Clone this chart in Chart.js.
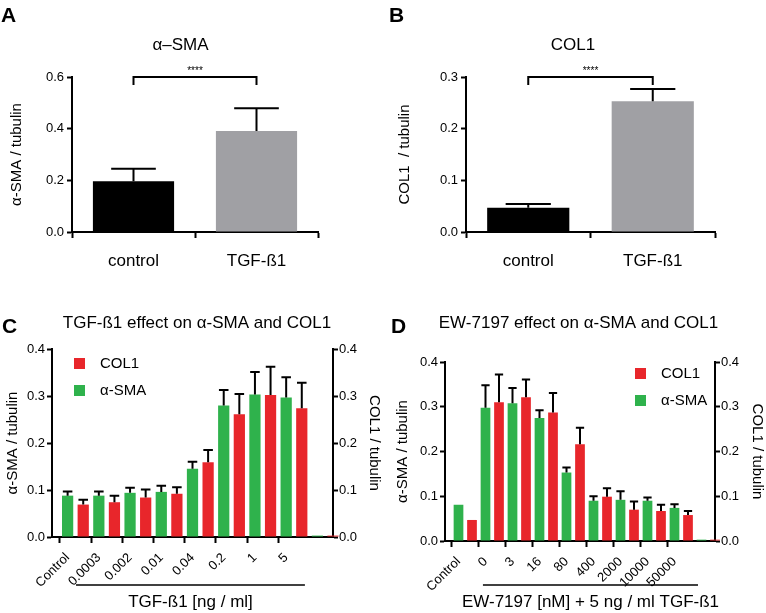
<!DOCTYPE html>
<html>
<head>
<meta charset="utf-8">
<script src="https://cdn.jsdelivr.net/npm/chart.js@4.4.1/dist/chart.umd.min.js"></script>
<style>
  html, body { margin: 0; padding: 0; background: #fff; }
  #fig { position: relative; width: 766px; height: 613px; overflow: hidden; }
  #fig canvas { position: absolute; }
  .tag { position: absolute; font: bold 21px 'Liberation Sans', Arial, sans-serif; line-height: 21px; color: #000; }
</style>
</head>
<body>
<div id="fig">
  <canvas id="chartA" width="383" height="300" style="left:0;top:0"></canvas>
  <canvas id="chartB" width="383" height="300" style="left:383px;top:0"></canvas>
  <canvas id="chartC" width="383" height="313" style="left:0;top:300px"></canvas>
  <canvas id="chartD" width="383" height="313" style="left:383px;top:300px"></canvas>
  <div class="tag" style="left:1px;top:4px">A</div>
  <div class="tag" style="left:389px;top:4px">B</div>
  <div class="tag" style="left:2px;top:315px">C</div>
  <div class="tag" style="left:391px;top:315px">D</div>
</div>
<script>
const FONT = "'Liberation Sans', Arial, sans-serif";
Chart.defaults.font.family = FONT;
Chart.defaults.color = '#000';
Chart.defaults.animation = false;

// A + B: control vs TGF-ß1
const treatments = ['control', 'TGF-ß1'];
const smaMean = [0.196, 0.391];
const smaSem = [0.049, 0.088];
const col1Mean = [0.047, 0.253];
const col1Sem = [0.007, 0.024];

// C: TGF-ß1 dose response (last pair unlabeled)
const tgfDoses = ['Control', '0.0003', '0.002', '0.01', '0.04', '0.2', '1', '5', ''];
const tgfSma = [0.088, 0.088, 0.094, 0.096, 0.145, 0.280, 0.303, 0.297, 0.003];
const tgfSmaErr = [0.009, 0.009, 0.011, 0.013, 0.015, 0.033, 0.048, 0.043, 0];
const tgfCol1 = [0.069, 0.074, 0.084, 0.092, 0.159, 0.261, 0.302, 0.274, 0.003];
const tgfCol1Err = [0.010, 0.014, 0.017, 0.014, 0.026, 0.043, 0.060, 0.054, 0];

// D: EW-7197 dose response
const ewDoses = ['Control', '0', '3', '16', '80', '400', '2000', '10000', '50000', ''];
const ewSma = [0.081, 0.298, 0.308, 0.275, 0.153, 0.090, 0.092, 0.090, 0.074, 0.003];
const ewSmaErr = [0, 0.050, 0.034, 0.017, 0.011, 0.010, 0.019, 0.007, 0.008, 0];
const ewCol1 = [0.047, 0.310, 0.321, 0.287, 0.216, 0.099, 0.070, 0.067, 0.058, 0.003];
const ewCol1Err = [0, 0.062, 0.040, 0.044, 0.037, 0.019, 0.018, 0.014, 0.009, 0];

const RED = '#e8262b';
const GREEN = '#2fb24c';
const GREY = '#a0a0a4';

// error bars (upper half only, like prism)
const errorBars = {
  id: 'errorBars',
  afterDatasetsDraw(chart, args, opts) {
    const ctx = chart.ctx;
    chart.data.datasets.forEach((ds, i) => {
      if (!ds.errors) return;
      const meta = chart.getDatasetMeta(i);
      const yScale = chart.scales[meta.yAxisID];
      meta.data.forEach((bar, j) => {
        const v = ds.data[j];
        const err = ds.errors[j];
        if (v == null || !err) return;
        const yTop = yScale.getPixelForValue(v + err);
        const half = bar.width * (opts.cap || 0.6) / 2;
        ctx.save();
        ctx.strokeStyle = '#000';
        ctx.lineWidth = 2;
        ctx.beginPath();
        ctx.moveTo(bar.x, bar.y);
        ctx.lineTo(bar.x, yTop);
        ctx.moveTo(bar.x - half, yTop);
        ctx.lineTo(bar.x + half, yTop);
        ctx.stroke();
        ctx.restore();
      });
    });
  }
};

const sigBracket = {
  id: 'sigBracket',
  afterDatasetsDraw(chart, args, o) {
    if (!o.text) return;
    const ctx = chart.ctx;
    const x0 = chart.scales.x.getPixelForValue(o.from);
    const x1 = chart.scales.x.getPixelForValue(o.to);
    const y = chart.scales.y.getPixelForValue(o.level);
    ctx.save();
    ctx.strokeStyle = '#000';
    ctx.lineWidth = 2;
    ctx.beginPath();
    ctx.moveTo(x0, y + 8);
    ctx.lineTo(x0, y);
    ctx.lineTo(x1, y);
    ctx.lineTo(x1, y + 8);
    ctx.stroke();
    ctx.fillStyle = '#000';
    ctx.font = '10px ' + FONT;
    ctx.textAlign = 'center';
    ctx.textBaseline = 'middle';
    ctx.fillText(o.text, (x0 + x1) / 2, y - 6);
    ctx.restore();
  }
};

const insetLegend = {
  id: 'insetLegend',
  afterDraw(chart, args, o) {
    if (!o.order) return;
    const ctx = chart.ctx;
    const { left, top } = chart.chartArea;
    ctx.save();
    ctx.font = '15px ' + FONT;
    ctx.textBaseline = 'middle';
    o.order.forEach((di, k) => {
      const ds = chart.data.datasets[di];
      const y = top + o.dy + k * 27;
      ctx.fillStyle = ds.backgroundColor;
      ctx.fillRect(left + o.dx, y, 11, 11);
      ctx.fillStyle = '#000';
      ctx.fillText(ds.label, left + o.dx + 26, y + 6);
    });
    ctx.restore();
  }
};

// underline + label under the dose labels
const groupLine = {
  id: 'groupLine',
  afterDraw(chart, args, o) {
    if (!o.text) return;
    const ctx = chart.ctx;
    const x0 = chart.scales.x.getPixelForValue(o.from);
    const x1 = chart.scales.x.getPixelForValue(o.to);
    ctx.save();
    ctx.strokeStyle = '#000';
    ctx.lineWidth = 1.5;
    ctx.beginPath();
    ctx.moveTo(x0, o.lineY);
    ctx.lineTo(x1, o.lineY);
    ctx.stroke();
    ctx.fillStyle = '#000';
    ctx.font = '17px ' + FONT;
    ctx.textAlign = 'center';
    ctx.textBaseline = 'middle';
    ctx.fillText(o.text, (x0 + x1) / 2, o.textY);
    ctx.restore();
  }
};

const axisGrid = {
  drawOnChartArea: false,
  tickLength: 5,
  tickWidth: 2,
  color: '#000',
  tickColor: '#000'
};
const axisBorder = { color: '#000', width: 2 };

// g.padL nudges the centred title; the y axis and its title are put back with width / padding
function simplePanel(id, title, yTitle, means, sems, max, step, g) {
  return new Chart(document.getElementById(id), {
    type: 'bar',
    data: {
      labels: treatments,
      datasets: [{
        data: means,
        errors: sems,
        backgroundColor: ['#000', GREY],
        barPercentage: 0.66,
        categoryPercentage: 1
      }]
    },
    options: {
      responsive: false,
      layout: { padding: { left: g.padL, top: 0, right: g.right, bottom: 0 } },
      plugins: {
        legend: { display: false },
        tooltip: { enabled: false },
        title: {
          display: true, text: title, color: '#000',
          font: { size: 17, weight: 'normal' },
          padding: { top: 34.8, bottom: 21.8 }
        },
        errorBars: { cap: 0.55 },
        sigBracket: { from: 0, to: 1, level: max, text: '****' }
      },
      scales: {
        x: {
          offset: true,
          grid: { ...axisGrid, tickLength: 6 },
          border: axisBorder,
          ticks: { font: { size: 17 }, padding: 13 },
          afterFit: (s) => { s.height = 68; }
        },
        y: {
          min: 0, max: max,
          grid: axisGrid,
          border: axisBorder,
          ticks: { stepSize: step, font: { size: 13 }, padding: 3, callback: (v) => Number(v).toFixed(1) },
          title: { display: true, text: yTitle, font: { size: 15 }, padding: { top: g.titleX - 9 - g.padL, bottom: 0 } },
          afterFit: (s) => { s.width = g.axisX - g.padL; }
        }
      }
    },
    plugins: [errorBars, sigBracket]
  });
}

simplePanel('chartA', 'α–SMA', 'α-SMA / tubulin', smaMean, smaSem, 0.6, 0.2,
  { padL: 43, right: 65, axisX: 72, titleX: 17 });
simplePanel('chartB', 'COL1', 'COL1  / tubulin', col1Mean, col1Sem, 0.3, 0.1,
  { padL: 48, right: 51, axisX: 83, titleX: 22 });

// bars sit in alternating slots: alpha-SMA at the labelled tick, COL1 in between
function slotLabels(doses) {
  const out = [''];
  doses.forEach((d) => out.push(d, ''));
  return out;
}
function onSlots(values, shift) {
  const out = new Array(values.length * 2 + 1).fill(null);
  values.forEach((v, i) => { out[1 + 2 * i + shift] = v; });
  return out;
}

function dosePanel(id, title, groupText, doses, sma, smaErr, col1, col1Err, g) {
  return new Chart(document.getElementById(id), {
    type: 'bar',
    data: {
      labels: slotLabels(doses),
      datasets: [
        {
          label: 'α-SMA', data: onSlots(sma, 0), errors: onSlots(smaErr, 0),
          backgroundColor: GREEN, yAxisID: 'y', grouped: false,
          barPercentage: 0.72, categoryPercentage: 1, clip: false
        },
        {
          label: 'COL1', data: onSlots(col1, 1), errors: onSlots(col1Err, 1),
          backgroundColor: RED, yAxisID: 'y2', grouped: false,
          barPercentage: 0.72, categoryPercentage: 1, clip: false
        }
      ]
    },
    options: {
      responsive: false,
      layout: { padding: { left: g.padL, top: 0, right: 0, bottom: 0 } },
      plugins: {
        legend: { display: false },
        tooltip: { enabled: false },
        title: {
          display: true, text: title, color: '#000',
          font: { size: 17, weight: 'normal' },
          padding: { top: 12.8, bottom: g.titleBottom }
        },
        errorBars: { cap: 0.85 },
        insetLegend: { order: [1, 0], dx: g.legendDx, dy: g.legendDy },
        groupLine: { from: g.groupFrom, to: g.groupTo, lineY: 285, textY: 302, text: groupText }
      },
      scales: {
        x: {
          offset: false,
          grid: {
            ...axisGrid,
            tickLength: 6,
            tickColor: (c) => (c.tick && c.tick.label ? '#000' : 'rgba(0,0,0,0)')
          },
          border: axisBorder,
          ticks: { autoSkip: false, maxRotation: 45, minRotation: 45, font: { size: 13 }, padding: 7 },
          afterFit: (s) => { s.height = g.xAxisH; }
        },
        y: {
          position: 'left', min: 0, max: 0.4,
          grid: axisGrid,
          border: axisBorder,
          ticks: { stepSize: 0.1, font: { size: 13 }, padding: 2, callback: (v) => Number(v).toFixed(1) },
          title: { display: true, text: 'α-SMA / tubulin', font: { size: 15 }, padding: { top: g.titleX - 9 - g.padL, bottom: 0 } },
          afterFit: (s) => { s.width = g.axisX - g.padL; }
        },
        y2: {
          position: 'right', min: 0, max: 0.4,
          grid: axisGrid,
          border: axisBorder,
          ticks: { stepSize: 0.1, font: { size: 13 }, padding: 1, callback: (v) => Number(v).toFixed(1) },
          title: { display: true, text: 'COL1 / tubulin', font: { size: 15 }, padding: { top: 0, bottom: 0 } },
          afterFit: (s) => { s.width = g.rightW; }
        }
      }
    },
    plugins: [errorBars, insetLegend, groupLine]
  });
}

dosePanel('chartC', 'TGF-ß1 effect on α-SMA and COL1', 'TGF-ß1 [ng / ml]',
  tgfDoses, tgfSma, tgfSmaErr, tgfCol1, tgfCol1Err,
  { padL: 11, axisX: 52, titleX: 13, titleBottom: 15.8, xAxisH: 76, rightW: 50,
    legendDx: 22, legendDy: 9, groupFrom: 1.54, groupTo: 16.2 });

dosePanel('chartD', 'EW-7197 effect on α-SMA and COL1', 'EW-7197 [nM] + 5 ng / ml TGF-ß1',
  ewDoses, ewSma, ewSmaErr, ewCol1, ewCol1Err,
  { padL: 8, axisX: 62, titleX: 20, titleBottom: 28.8, xAxisH: 72, rightW: 51,
    legendDx: 190, legendDy: 6, groupFrom: 2.81, groupTo: 18.74 });
</script>
</body>
</html>
